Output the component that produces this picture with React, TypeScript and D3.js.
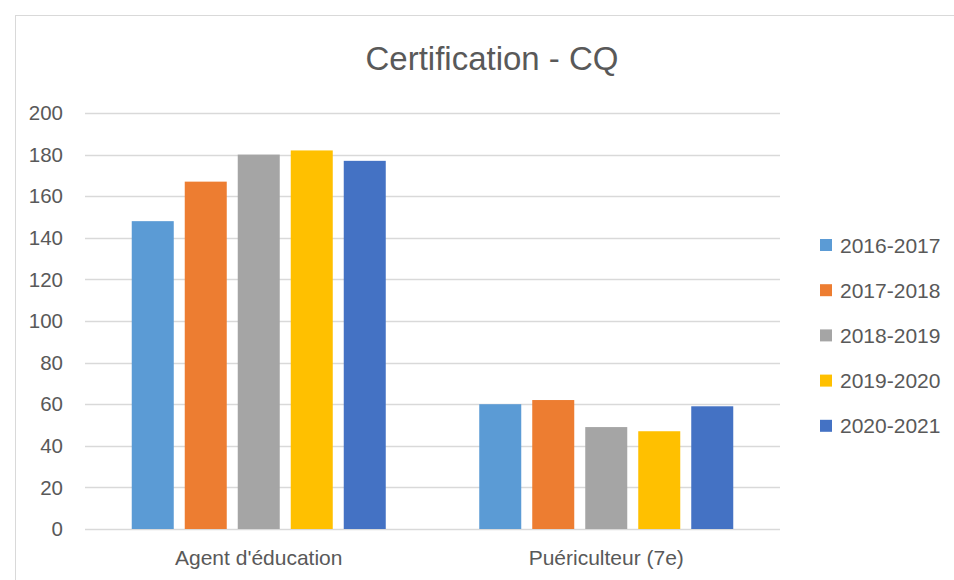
import React from "react";
import * as d3 from "d3";

const categories = ["Agent d'éducation", "Puériculteur (7e)"];
const seriesNames = ["2016-2017", "2017-2018", "2018-2019", "2019-2020", "2020-2021"];
const values2016 = [148, 60];
const values2017 = [167, 62];
const values2018 = [180, 49];
const values2019 = [182, 47];
const values2020 = [177, 59];
const colors = ["#5B9BD5", "#ED7D31", "#A5A5A5", "#FFC000", "#4472C4"];
const yTicks = [0, 20, 40, 60, 80, 100, 120, 140, 160, 180, 200];

const seriesValues = [values2016, values2017, values2018, values2019, values2020];

const W = 954;
const H = 580;
const FONT = "'Liberation Sans', Arial, sans-serif";
const TEXT = "#595959";

export default function App() {
  const left = 85;
  const right = 780;
  const top = 113;
  const bottom = 529;

  const y = d3.scaleLinear().domain([0, 200]).range([bottom, top]);
  const x0 = d3.scaleBand<string>().domain(categories).range([left, right]).padding(0);
  const x1 = d3
    .scaleBand<string>()
    .domain(seriesNames)
    .range([0, x0.bandwidth()])
    .paddingInner(0.2075)
    .paddingOuter(0.882);

  return (
    <svg
      width={W}
      height={H}
      style={{ position: "absolute", left: 0, top: 0, background: "#fff" }}
      fontFamily={FONT}
    >
      <rect x={0} y={0} width={W} height={H} fill="#fff" />
      <rect x={15.5} y={15.5} width={W + 20} height={H + 20} fill="none" stroke="#d9d9d9" strokeWidth={1} />
      <text x={492} y={70} textAnchor="middle" fontSize={33} fill={TEXT}>
        Certification - CQ
      </text>
      {yTicks.map((t) => (
        <g key={t}>
          <line x1={left} x2={right} y1={Math.round(y(t)) + 0.5} y2={Math.round(y(t)) + 0.5} stroke="#d9d9d9" strokeWidth={1.5} />
          <text x={63} y={y(t)} dy="0.35em" textAnchor="end" fontSize={20.5} fill={TEXT}>
            {t}
          </text>
        </g>
      ))}
      {categories.map((c, ci) => (
        <g key={c}>
          {seriesNames.map((s, si) => {
            const v = seriesValues[si][ci];
            return (
              <rect
                key={s}
                x={(x0(c) ?? 0) + (x1(s) ?? 0)}
                y={y(v)}
                width={x1.bandwidth()}
                height={y(0) - y(v)}
                fill={colors[si]}
              />
            );
          })}
          <text x={(x0(c) ?? 0) + x0.bandwidth() / 2} y={565} textAnchor="middle" fontSize={21} fill={TEXT}>
            {c}
          </text>
        </g>
      ))}
      {seriesNames.map((s, si) => {
        const cy = 245 + si * 45.2;
        return (
          <g key={s}>
            <rect x={820} y={cy - 6} width={12} height={12} fill={colors[si]} />
            <text x={840} y={cy} dy="0.36em" fontSize={21} fill={TEXT}>
              {s}
            </text>
          </g>
        );
      })}
    </svg>
  );
}
